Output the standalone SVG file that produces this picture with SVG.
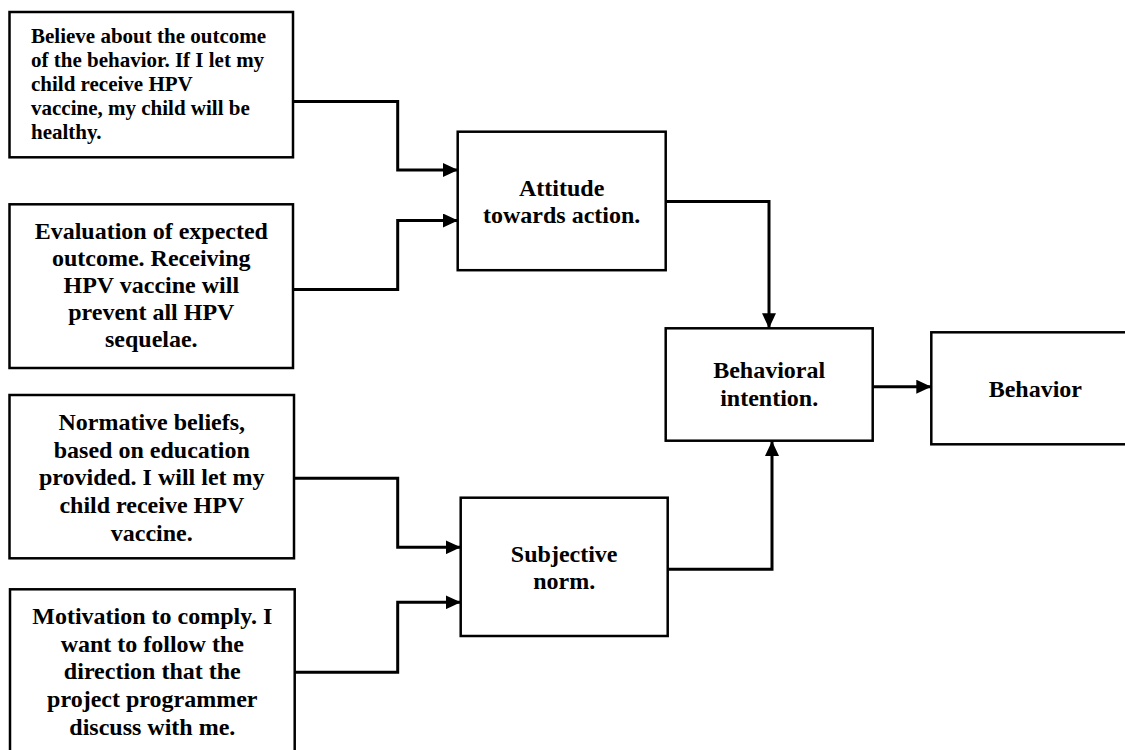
<svg xmlns="http://www.w3.org/2000/svg" width="1125" height="750" viewBox="0 0 1125 750">
<style>
.box{fill:#fff;stroke:#000;stroke-width:2.5}
.t{font-family:"Liberation Serif","Times New Roman",serif;font-weight:bold;font-size:24px;fill:#000;text-anchor:middle}
.t1{font-family:"Liberation Serif","Times New Roman",serif;font-weight:bold;font-size:21px;fill:#000}
.c{fill:none;stroke:#000;stroke-width:3;marker-end:url(#ah)}
</style>
<defs>
<marker id="ah" markerUnits="userSpaceOnUse" markerWidth="16" markerHeight="14" refX="15" refY="7" orient="auto">
<path d="M0,0 L15,7 L0,14 z" fill="#000"/>
</marker>
</defs>
<rect width="1125" height="750" fill="#fff"/>
<g id="connectors">
<path class="c" d="M293,101.5 H397.7 V170 H458"/>
<path class="c" d="M293,289.5 H397.7 V220.5 H458"/>
<path class="c" d="M294,478.3 H397.7 V547.3 H460.7"/>
<path class="c" d="M294,672.3 H397.7 V602.3 H460.7"/>
<path class="c" d="M666,201.5 H769 V328.3"/>
<path class="c" d="M667.7,569.3 H772 V441"/>
<path class="c" d="M872.7,386.7 H931.3"/>
</g>
<g id="belief">
<rect class="box" x="9.5" y="12" width="283.5" height="145.3"/>
<text class="t1" x="31" y="42.7">Believe about the outcome</text>
<text class="t1" x="31" y="66.7">of the behavior. If I let my</text>
<text class="t1" x="31" y="90.7">child receive HPV</text>
<text class="t1" x="31" y="114.7">vaccine, my child will be</text>
<text class="t1" x="31" y="138.5">healthy.</text>
</g>
<g id="evaluation">
<rect class="box" x="9.5" y="204.3" width="283.5" height="163.7"/>
<text class="t" x="151.3" y="238.5">Evaluation of expected</text>
<text class="t" x="151.3" y="265.6">outcome. Receiving</text>
<text class="t" x="151.3" y="292.7">HPV vaccine will</text>
<text class="t" x="151.3" y="319.8">prevent all HPV</text>
<text class="t" x="151.3" y="346.9">sequelae.</text>
</g>
<g id="normative">
<rect class="box" x="9.5" y="395" width="284.5" height="163.3"/>
<text class="t" x="151.8" y="430">Normative beliefs,</text>
<text class="t" x="151.8" y="457.7">based on education</text>
<text class="t" x="151.8" y="485.4">provided. I will let my</text>
<text class="t" x="151.8" y="513.1">child receive HPV</text>
<text class="t" x="151.8" y="540.8">vaccine.</text>
</g>
<g id="motivation">
<rect class="box" x="10" y="589.3" width="284.7" height="165"/>
<text class="t" x="152.3" y="624">Motivation to comply. I</text>
<text class="t" x="152.3" y="651.7">want to follow the</text>
<text class="t" x="152.3" y="679.3">direction that the</text>
<text class="t" x="152.3" y="707">project programmer</text>
<text class="t" x="152.3" y="734.7">discuss with me.</text>
</g>
<g id="attitude">
<rect class="box" x="457.7" y="131.7" width="208" height="138.5"/>
<text class="t" x="561.7" y="196">Attitude</text>
<text class="t" x="561.7" y="223">towards action.</text>
</g>
<g id="subjective">
<rect class="box" x="460.7" y="497.7" width="207" height="138.3"/>
<text class="t" x="564.2" y="561.7">Subjective</text>
<text class="t" x="564.2" y="589.3">norm.</text>
</g>
<g id="intention">
<rect class="box" x="665.7" y="328.3" width="207" height="112.4"/>
<text class="t" x="769.2" y="378.3">Behavioral</text>
<text class="t" x="769.2" y="406">intention.</text>
</g>
<g id="behavior">
<rect class="box" x="931.3" y="332.3" width="208" height="112"/>
<text class="t" x="1035.3" y="397">Behavior</text>
</g>
</svg>
